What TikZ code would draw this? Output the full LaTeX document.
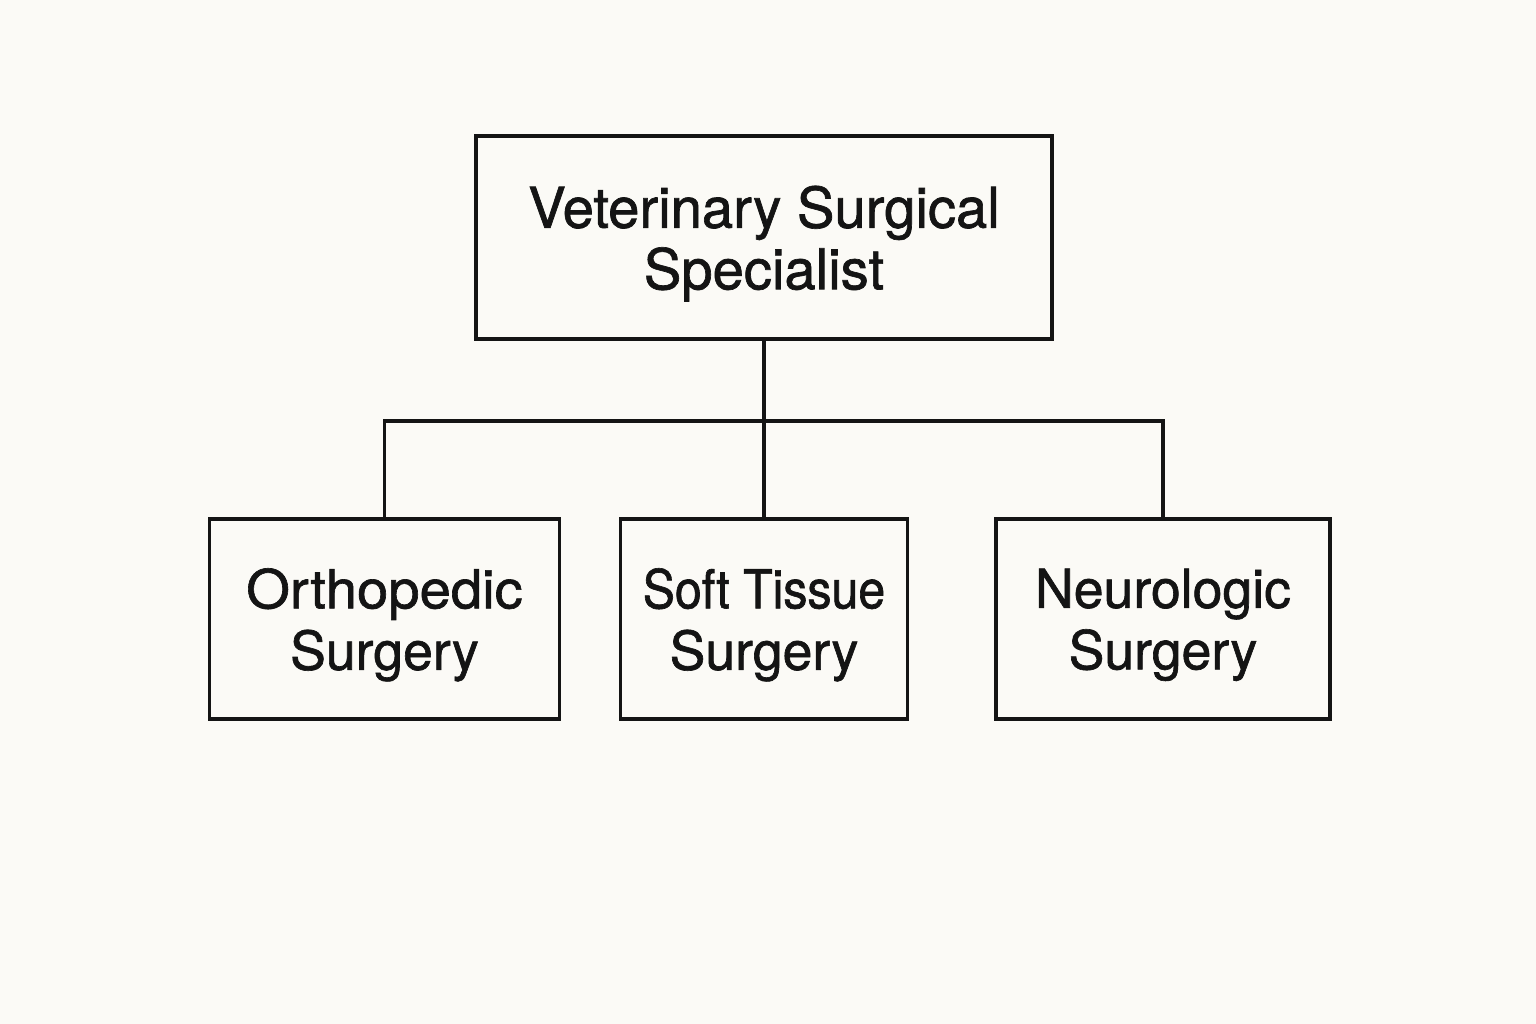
\documentclass[tikz,border=0pt]{standalone}
\usepackage{fontspec}
\setmainfont{TeX Gyre Heros}
\newfontfamily\medfont{TeX Gyre Heros}[FakeBold=1.2]
\newfontfamily\narrowfont{TeX Gyre Heros}[FakeBold=1.2,FakeStretch=0.9]
\newfontfamily\widefont{TeX Gyre Heros}[FakeBold=1.2,FakeStretch=1.05]
\definecolor{bg}{HTML}{FBFAF6}
\definecolor{ink}{HTML}{141414}
\begin{document}
\begin{tikzpicture}[x=0.02cm,y=-0.02cm,
  box/.style={draw=ink,line width=0.075cm,rectangle,align=center,text=ink,
    font=\medfont\fontsize{30.5}{35}\selectfont,inner sep=0pt,text depth=0pt},
  link/.style={draw=ink,line width=0.065cm}]
\fill[bg] (0,0) rectangle (1536,1024);
\useasboundingbox (0,0) rectangle (1536,1024);
\node[box,minimum width=11.52cm,minimum height=4.06cm,font=\medfont\fontsize{32}{35}\selectfont] (top) at (764,237.5) {Veterinary Surgical\\Specialist};
\node[box,minimum width=7.0cm,minimum height=4.0cm] (left) at (384.5,619) {{\widefont Orthopedic}\\Surgery};
\node[box,minimum width=5.74cm,minimum height=4.0cm] (mid) at (764,619) {{\narrowfont Soft Tissue}\\Surgery};
\node[box,minimum width=6.68cm,minimum height=4.0cm] (right) at (1163,619) {Neurologic\\Surgery};
\coordinate (j) at (764,421);
\draw[link] (top.south) -- (j);
\draw[link] (left.north) |- (j) -| (right.north);
\draw[link] (j) -- (mid.north);
\end{tikzpicture}
\end{document}
